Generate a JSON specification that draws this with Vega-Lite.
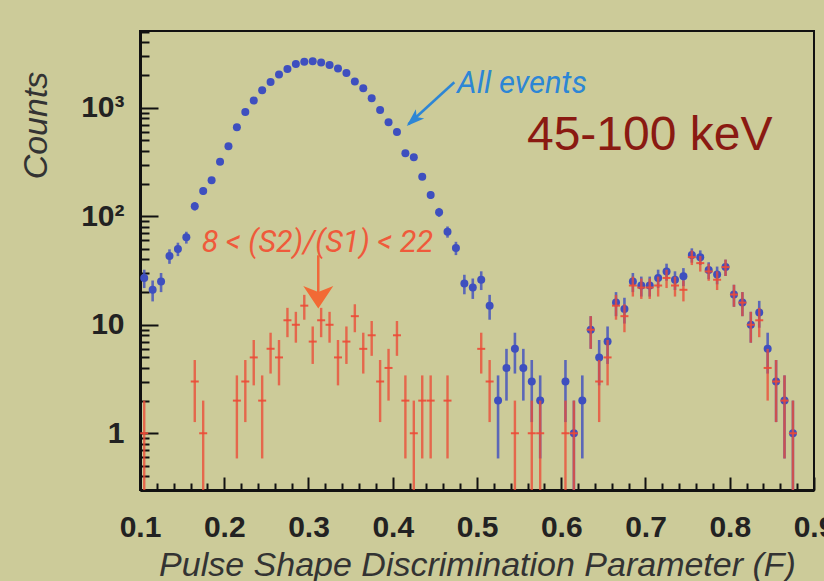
{
  "$schema": "https://vega.github.io/schema/vega-lite/v6.json",
  "width": 674,
  "height": 459,
  "autosize": "none",
  "padding": {"left": 140, "top": 31, "right": 10, "bottom": 91},
  "background": "#cccb99",
  "config": {
    "view": {"stroke": "#111111", "strokeWidth": 2},
    "axis": {"grid": false, "domainColor": "#111111", "domainWidth": 3, "tickColor": "#111111", "tickWidth": 2}
  },
  "datasets": {
    "all": [
      {"F": 0.105, "n": 27, "lo": 21.8, "hi": 32.2},
      {"F": 0.115, "n": 21, "lo": 16.42, "hi": 25.58},
      {"F": 0.125, "n": 25, "lo": 20, "hi": 30},
      {"F": 0.135, "n": 43, "lo": 36.44, "hi": 49.56},
      {"F": 0.145, "n": 50, "lo": 42.93, "hi": 57.07},
      {"F": 0.155, "n": 64, "lo": 56, "hi": 72},
      {"F": 0.165, "n": 124, "lo": 112.9, "hi": 135.1},
      {"F": 0.175, "n": 171, "lo": 157.9, "hi": 184.1},
      {"F": 0.185, "n": 215, "lo": 200.3, "hi": 229.7},
      {"F": 0.195, "n": 318, "lo": 300.2, "hi": 335.8},
      {"F": 0.205, "n": 441, "lo": 420, "hi": 462},
      {"F": 0.215, "n": 660, "lo": 634.3, "hi": 685.7},
      {"F": 0.225, "n": 915, "lo": 884.8, "hi": 945.2},
      {"F": 0.235, "n": 1164, "lo": 1129.9, "hi": 1198.1},
      {"F": 0.245, "n": 1450, "lo": 1411.9, "hi": 1488.1},
      {"F": 0.255, "n": 1730, "lo": 1688.4, "hi": 1771.6},
      {"F": 0.265, "n": 2022, "lo": 1977, "hi": 2067},
      {"F": 0.275, "n": 2282, "lo": 2234.2, "hi": 2329.8},
      {"F": 0.285, "n": 2537, "lo": 2486.6, "hi": 2587.4},
      {"F": 0.295, "n": 2660, "lo": 2608.4, "hi": 2711.6},
      {"F": 0.305, "n": 2690, "lo": 2638.1, "hi": 2741.9},
      {"F": 0.315, "n": 2610, "lo": 2558.9, "hi": 2661.1},
      {"F": 0.325, "n": 2485, "lo": 2435.1, "hi": 2534.9},
      {"F": 0.335, "n": 2296, "lo": 2248.1, "hi": 2343.9},
      {"F": 0.345, "n": 2095, "lo": 2049.2, "hi": 2140.8},
      {"F": 0.355, "n": 1742, "lo": 1700.3, "hi": 1783.7},
      {"F": 0.365, "n": 1514, "lo": 1475.1, "hi": 1552.9},
      {"F": 0.375, "n": 1224, "lo": 1189, "hi": 1259},
      {"F": 0.385, "n": 955, "lo": 924.1, "hi": 985.9},
      {"F": 0.395, "n": 735, "lo": 707.9, "hi": 762.1},
      {"F": 0.405, "n": 598, "lo": 573.5, "hi": 622.5},
      {"F": 0.415, "n": 380, "lo": 360.5, "hi": 399.5},
      {"F": 0.425, "n": 349, "lo": 330.3, "hi": 367.7},
      {"F": 0.435, "n": 231, "lo": 215.8, "hi": 246.2},
      {"F": 0.445, "n": 157, "lo": 144.5, "hi": 169.5},
      {"F": 0.455, "n": 109, "lo": 98.6, "hi": 119.4},
      {"F": 0.465, "n": 72, "lo": 63.5, "hi": 80.5},
      {"F": 0.475, "n": 51, "lo": 43.86, "hi": 58.14},
      {"F": 0.485, "n": 24, "lo": 19.1, "hi": 28.9},
      {"F": 0.495, "n": 22, "lo": 17.31, "hi": 26.69},
      {"F": 0.505, "n": 26, "lo": 20.9, "hi": 31.1},
      {"F": 0.515, "n": 15, "lo": 11.13, "hi": 18.87},
      {"F": 0.525, "n": 2, "lo": 0.586, "hi": 3.414},
      {"F": 0.535, "n": 4, "lo": 2, "hi": 6},
      {"F": 0.545, "n": 6, "lo": 3.551, "hi": 8.449},
      {"F": 0.555, "n": 4, "lo": 2, "hi": 6},
      {"F": 0.565, "n": 3, "lo": 1.268, "hi": 4.732},
      {"F": 0.575, "n": 2, "lo": 0.586, "hi": 3.414},
      {"F": 0.605, "n": 3, "lo": 1.268, "hi": 4.732},
      {"F": 0.615, "n": 1, "lo": 0, "hi": 2},
      {"F": 0.625, "n": 2, "lo": 0.586, "hi": 3.414},
      {"F": 0.635, "n": 9, "lo": 6, "hi": 12},
      {"F": 0.645, "n": 5, "lo": 2.764, "hi": 7.236},
      {"F": 0.655, "n": 7, "lo": 4.354, "hi": 9.646},
      {"F": 0.665, "n": 16, "lo": 12, "hi": 20},
      {"F": 0.675, "n": 14, "lo": 10.26, "hi": 17.74},
      {"F": 0.685, "n": 25, "lo": 20, "hi": 30},
      {"F": 0.695, "n": 23, "lo": 18.2, "hi": 27.8},
      {"F": 0.705, "n": 23, "lo": 18.2, "hi": 27.8},
      {"F": 0.715, "n": 27, "lo": 21.8, "hi": 32.2},
      {"F": 0.725, "n": 31, "lo": 25.43, "hi": 36.57},
      {"F": 0.735, "n": 26, "lo": 20.9, "hi": 31.1},
      {"F": 0.745, "n": 28, "lo": 22.71, "hi": 33.29},
      {"F": 0.755, "n": 44, "lo": 37.37, "hi": 50.63},
      {"F": 0.765, "n": 42, "lo": 35.52, "hi": 48.48},
      {"F": 0.775, "n": 32, "lo": 26.34, "hi": 37.66},
      {"F": 0.785, "n": 29, "lo": 23.61, "hi": 34.39},
      {"F": 0.795, "n": 34, "lo": 28.17, "hi": 39.83},
      {"F": 0.805, "n": 19, "lo": 14.64, "hi": 23.36},
      {"F": 0.815, "n": 16, "lo": 12, "hi": 20},
      {"F": 0.825, "n": 10, "lo": 6.838, "hi": 13.16},
      {"F": 0.835, "n": 13, "lo": 9.394, "hi": 16.61},
      {"F": 0.845, "n": 6, "lo": 3.551, "hi": 8.449},
      {"F": 0.855, "n": 3, "lo": 1.268, "hi": 4.732},
      {"F": 0.865, "n": 2, "lo": 0.586, "hi": 3.414},
      {"F": 0.875, "n": 1, "lo": 0, "hi": 2}
    ],
    "cut": [
      {"F": 0.105, "n": 1, "lo": 0, "hi": 2},
      {"F": 0.165, "n": 3, "lo": 1.268, "hi": 4.732},
      {"F": 0.175, "n": 1, "lo": 0, "hi": 2},
      {"F": 0.215, "n": 2, "lo": 0.586, "hi": 3.414},
      {"F": 0.225, "n": 3, "lo": 1.268, "hi": 4.732},
      {"F": 0.235, "n": 5, "lo": 2.764, "hi": 7.236},
      {"F": 0.245, "n": 2, "lo": 0.586, "hi": 3.414},
      {"F": 0.255, "n": 6, "lo": 3.551, "hi": 8.449},
      {"F": 0.265, "n": 5, "lo": 2.764, "hi": 7.236},
      {"F": 0.275, "n": 11, "lo": 7.683, "hi": 14.32},
      {"F": 0.285, "n": 10, "lo": 6.838, "hi": 13.16},
      {"F": 0.295, "n": 15, "lo": 11.13, "hi": 18.87},
      {"F": 0.305, "n": 7, "lo": 4.354, "hi": 9.646},
      {"F": 0.315, "n": 11, "lo": 7.683, "hi": 14.32},
      {"F": 0.325, "n": 10, "lo": 6.838, "hi": 13.16},
      {"F": 0.335, "n": 5, "lo": 2.764, "hi": 7.236},
      {"F": 0.345, "n": 7, "lo": 4.354, "hi": 9.646},
      {"F": 0.355, "n": 12, "lo": 8.536, "hi": 15.46},
      {"F": 0.365, "n": 6, "lo": 3.551, "hi": 8.449},
      {"F": 0.375, "n": 8, "lo": 5.172, "hi": 10.83},
      {"F": 0.385, "n": 3, "lo": 1.268, "hi": 4.732},
      {"F": 0.395, "n": 4, "lo": 2, "hi": 6},
      {"F": 0.405, "n": 8, "lo": 5.172, "hi": 10.83},
      {"F": 0.415, "n": 2, "lo": 0.586, "hi": 3.414},
      {"F": 0.425, "n": 1, "lo": 0, "hi": 2},
      {"F": 0.435, "n": 2, "lo": 0.586, "hi": 3.414},
      {"F": 0.445, "n": 2, "lo": 0.586, "hi": 3.414},
      {"F": 0.465, "n": 2, "lo": 0.586, "hi": 3.414},
      {"F": 0.505, "n": 6, "lo": 3.551, "hi": 8.449},
      {"F": 0.515, "n": 3, "lo": 1.268, "hi": 4.732},
      {"F": 0.545, "n": 1, "lo": 0, "hi": 2},
      {"F": 0.565, "n": 1, "lo": 0, "hi": 2},
      {"F": 0.575, "n": 1, "lo": 0, "hi": 2},
      {"F": 0.605, "n": 1, "lo": 0, "hi": 2},
      {"F": 0.615, "n": 1, "lo": 0, "hi": 2},
      {"F": 0.635, "n": 9, "lo": 6, "hi": 12},
      {"F": 0.645, "n": 3, "lo": 1.268, "hi": 4.732},
      {"F": 0.655, "n": 5, "lo": 2.764, "hi": 7.236},
      {"F": 0.665, "n": 15, "lo": 11.13, "hi": 18.87},
      {"F": 0.675, "n": 12, "lo": 8.536, "hi": 15.46},
      {"F": 0.685, "n": 23, "lo": 18.2, "hi": 27.8},
      {"F": 0.695, "n": 22, "lo": 17.31, "hi": 26.69},
      {"F": 0.705, "n": 22, "lo": 17.31, "hi": 26.69},
      {"F": 0.715, "n": 23, "lo": 18.2, "hi": 27.8},
      {"F": 0.725, "n": 27, "lo": 21.8, "hi": 32.2},
      {"F": 0.735, "n": 23, "lo": 18.2, "hi": 27.8},
      {"F": 0.745, "n": 21, "lo": 16.42, "hi": 25.58},
      {"F": 0.755, "n": 42, "lo": 35.52, "hi": 48.48},
      {"F": 0.765, "n": 37, "lo": 30.92, "hi": 43.08},
      {"F": 0.775, "n": 31, "lo": 25.43, "hi": 36.57},
      {"F": 0.785, "n": 26, "lo": 20.9, "hi": 31.1},
      {"F": 0.795, "n": 34, "lo": 28.17, "hi": 39.83},
      {"F": 0.805, "n": 19, "lo": 14.64, "hi": 23.36},
      {"F": 0.815, "n": 16, "lo": 12, "hi": 20},
      {"F": 0.825, "n": 10, "lo": 6.838, "hi": 13.16},
      {"F": 0.835, "n": 11, "lo": 7.683, "hi": 14.32},
      {"F": 0.845, "n": 4, "lo": 2, "hi": 6},
      {"F": 0.855, "n": 3, "lo": 1.268, "hi": 4.732},
      {"F": 0.865, "n": 2, "lo": 0.586, "hi": 3.414},
      {"F": 0.875, "n": 1, "lo": 0, "hi": 2}
    ]
  },
  "resolve": {"axis": {"x": "independent", "y": "independent"}},
  "layer": [
    {
      "data": {"name": "all"},
      "mark": {"type": "rule", "color": "#4656bd", "strokeWidth": 2.6, "opacity": 0.85},
      "encoding": {
        "x": {
          "field": "F", "type": "quantitative",
          "scale": {"domain": [0.1, 0.9], "nice": false, "zero": false},
          "axis": {
            "orient": "bottom",
            "title": "Pulse Shape Discrimination Parameter (F)",
            "values": [0.1, 0.2, 0.3, 0.4, 0.5, 0.6, 0.7, 0.8, 0.9],
            "format": ".1f",
            "tickSize": -13,
            "labelFont": "Liberation Sans", "labelFontWeight": "bold", "labelFontSize": 30, "labelColor": "#222222",
            "labelPadding": 35, "labelFlush": false, "labelOverlap": false, "labelBaseline": "top",
            "titleFont": "Liberation Sans", "titleFontStyle": "italic", "titleFontWeight": "normal", "titleFontSize": 34,
            "titleColor": "#333333", "titleBaseline": "alphabetic", "titleY": 85
          }
        },
        "y": {
          "field": "hi", "type": "quantitative",
          "scale": {"type": "log", "domain": [0.3, 5100], "nice": false, "clamp": true},
          "axis": {
            "orient": "left",
            "title": "Counts",
            "values": [1, 10, 100, 1000],
            "labelExpr": "datum.value === 1000 ? '10³' : datum.value === 100 ? '10²' : datum.value === 10 ? '10' : '1'",
            "tickSize": -18,
            "labelFont": "Liberation Sans", "labelFontWeight": "bold", "labelFontSize": 30, "labelColor": "#222222",
            "labelPadding": 34, "labelFlush": false, "labelOverlap": false,
            "titleFont": "Liberation Sans", "titleFontStyle": "italic", "titleFontWeight": "normal", "titleFontSize": 34,
            "titleColor": "#333333", "titleBaseline": "alphabetic", "titleAngle": 270, "titleX": -94, "titleY": 94, "titleAlign": "center"
          }
        },
        "y2": {"field": "lo"}
      }
    },
    {
      "data": {"name": "all"},
      "mark": {"type": "point", "shape": "circle", "filled": true, "size": 64, "color": "#3e4fbf", "opacity": 1},
      "encoding": {
        "x": {
          "field": "F", "type": "quantitative",
          "axis": {
            "orient": "bottom", "title": null, "labels": false, "domain": false, "tickSize": -7,
            "values": [0.12, 0.14, 0.16, 0.18, 0.22, 0.24, 0.26, 0.28, 0.32, 0.34, 0.36, 0.38, 0.42, 0.44, 0.46, 0.48, 0.52, 0.54, 0.56, 0.58, 0.62, 0.64, 0.66, 0.68, 0.72, 0.74, 0.76, 0.78, 0.82, 0.84, 0.86, 0.88]
          }
        },
        "y": {
          "field": "n", "type": "quantitative",
          "axis": {
            "orient": "left", "title": null, "labels": false, "domain": false, "tickSize": -9,
            "values": [0.3, 0.4, 0.5, 0.6, 0.7, 0.8, 0.9, 2, 3, 4, 5, 6, 7, 8, 9, 20, 30, 40, 50, 60, 70, 80, 90, 200, 300, 400, 500, 600, 700, 800, 900, 2000, 3000, 4000, 5000]
          }
        }
      }
    },
    {
      "data": {"name": "cut"},
      "mark": {"type": "rule", "color": "#ec4a36", "strokeWidth": 2.4, "opacity": 0.78},
      "encoding": {
        "x": {"field": "F", "type": "quantitative", "axis": null},
        "y": {"field": "hi", "type": "quantitative", "axis": null},
        "y2": {"field": "lo"}
      }
    },
    {
      "data": {"name": "cut"},
      "mark": {"type": "tick", "orient": "horizontal", "size": 8, "thickness": 2, "color": "#ec4a36", "opacity": 0.9},
      "encoding": {
        "x": {"field": "F", "type": "quantitative", "axis": null},
        "y": {"field": "n", "type": "quantitative", "axis": null}
      }
    },
    {
      "data": {"values": [{}]},
      "mark": {"type": "rule", "color": "#2d86d5", "strokeWidth": 2.5},
      "encoding": {
        "x": {"datum": 0.4731, "axis": null}, "y": {"datum": 1719, "axis": null},
        "x2": {"datum": 0.4185}, "y2": {"datum": 705}
      }
    },
    {
      "data": {"values": [{}]},
      "mark": {"type": "point", "shape": "M0,0 L0.55,1.6 L0,1.2 L-0.55,1.6 Z", "filled": true, "size": 506, "angle": 227.5, "color": "#2d86d5", "opacity": 1},
      "encoding": {"x": {"datum": 0.4166, "axis": null}, "y": {"datum": 679, "axis": null}}
    },
    {
      "data": {"values": [{}]},
      "mark": {"type": "rule", "color": "#f0683a", "strokeWidth": 2.5},
      "encoding": {
        "x": {"datum": 0.3116, "axis": null}, "y": {"datum": 43.7, "axis": null},
        "x2": {"datum": 0.3116}, "y2": {"datum": 16}
      }
    },
    {
      "data": {"values": [{}]},
      "mark": {"type": "point", "shape": "M0,0 L1,1.5 L0,1.1 L-1,1.5 Z", "filled": true, "size": 900, "angle": 180, "color": "#f26a35", "opacity": 1},
      "encoding": {"x": {"datum": 0.3116, "axis": null}, "y": {"datum": 14.1, "axis": null}}
    },
    {
      "data": {"values": [{}]},
      "mark": {"type": "text", "align": "left", "baseline": "alphabetic", "font": "Roboto", "fontStyle": "italic", "fontSize": 31, "color": "#2d86d5"},
      "encoding": {"x": {"datum": 0.4763, "axis": null}, "y": {"datum": 1378, "axis": null}, "text": {"value": "All events"}}
    },
    {
      "data": {"values": [{}]},
      "mark": {"type": "text", "align": "left", "baseline": "alphabetic", "font": "Roboto", "fontStyle": "italic", "fontSize": 30.5, "color": "#ef5a3b"},
      "encoding": {"x": {"datum": 0.1732, "axis": null}, "y": {"datum": 46.9, "axis": null}, "text": {"value": "8 < (S2)/(S1) < 22"}}
    },
    {
      "data": {"values": [{}]},
      "mark": {"type": "text", "align": "left", "baseline": "alphabetic", "font": "Liberation Sans", "fontSize": 48, "color": "#8a1a12"},
      "encoding": {"x": {"datum": 0.5593, "axis": null}, "y": {"datum": 408, "axis": null}, "text": {"value": "45-100 keV"}}
    }
  ]
}
